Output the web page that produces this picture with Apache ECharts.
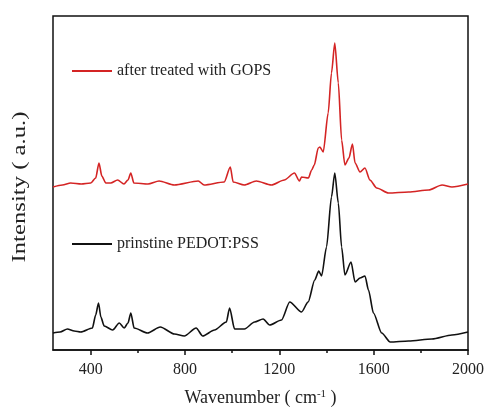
<!DOCTYPE html>
<html><head><meta charset="utf-8">
<script src="https://cdn.jsdelivr.net/npm/echarts@6/dist/echarts.min.js"></script>
<style>html,body{margin:0;padding:0;background:#fff}#c{width:486px;height:408px}</style>
</head><body><div id="c"></div>
<script>
// Wavenumber (cm^-1) and intensity (a.u., offset)
const wnRed  = [240,280,315,360,400,421,435,447,464,485,514,541,558,570,583,643,690,754,856,881,966,992,1004,1051,1102,1166,1221,1264,1285,1294,1323,1337,1348,1365,1372,1386,1407,1421,1435,1450,1464,1478,1495,1510,1521,1542,1563,1584,1613,1663,1748,1833,1890,1932,2000];
const intRed = [163,165,167,166,167,172,187,174,167,167,170,166,170,177,167,166,169,165,169,165,168,183,168,165,169,165,170,177,169,173,172,180,185,202,203,198,237,277,307,267,210,185,192,206,187,178,182,170,162,157,158,160,165,163,166];
const wnBlack  = [240,270,301,330,358,407,421,433,443,457,493,521,542,558,570,584,641,695,755,797,847,875,925,975,989,1010,1052,1095,1131,1159,1209,1244,1294,1322,1350,1367,1379,1400,1421,1435,1450,1464,1478,1504,1521,1542,1563,1578,1599,1634,1670,1748,1847,1932,2000];
const intBlack = [17,18,21,19,18,22,35,47,33,24,20,27,22,27,37,22,17,23,16,14,22,14,20,28,42,21,21,28,31,25,30,48,38,48,70,79,74,103,153,177,147,103,75,88,68,72,74,60,37,17,8,9,11,15,18];
const majorTicks = [400,800,1200,1600,2000];
const minorTicks = [600,1000,1400,1800];
const nameRed = 'after treated with GOPS';
const nameBlack = 'prinstine PEDOT:PSS';
const yTitle = 'Intensity ( a.u.)';

const pairs = (xs, ys) => xs.map((x, i) => [x, ys[i]]);
const font = 'Liberation Serif';
const chart = echarts.init(document.getElementById('c'));
chart.setOption({
  animation: false,
  backgroundColor: '#fff',
  grid: {left: 53, right: 18, top: 16, bottom: 58, show: true, borderColor: '#111', borderWidth: 1.5,
    backgroundColor: 'transparent', containLabel: false, outerBoundsMode: 'none'},
  legend: [
    {data: [{name: nameRed, icon: 'rect'}], left: 72, top: 63, padding: 0, itemWidth: 40, itemHeight: 2,
     textStyle: {fontFamily: font, fontSize: 16, color: '#222'}},
    {data: [{name: nameBlack, icon: 'rect'}], left: 72, top: 236, padding: 0, itemWidth: 40, itemHeight: 2,
     textStyle: {fontFamily: font, fontSize: 16, color: '#222'}}
  ],
  graphic: [{type: 'text', x: 20, y: 187, rotation: Math.PI / 2, scaleX: 1.3,
    style: {text: yTitle, fontFamily: font, fontSize: 19, fill: '#222', align: 'center', verticalAlign: 'middle'}}],
  xAxis: [
    {type: 'value', min: 240, max: 2000, position: 'bottom',
     axisLine: {show: true, lineStyle: {color: '#111', width: 1.5}},
     axisTick: {show: true, customValues: majorTicks, length: 5, lineStyle: {color: '#111', width: 1.5}},
     axisLabel: {show: true, customValues: majorTicks, margin: 12, fontFamily: font, fontSize: 16, color: '#222',
       formatter: v => String(v)},
     splitLine: {show: false},
     name: 'Wavenumber ( cm{sup|-1} )', nameLocation: 'middle', nameGap: 39,
     nameTextStyle: {fontFamily: font, fontSize: 18, color: '#222',
       rich: {sup: {fontFamily: font, fontSize: 11, color: '#222', verticalAlign: 'top', padding: [0,0,8,0]}}}},
    {type: 'value', min: 240, max: 2000, position: 'bottom',
     axisLine: {show: false},
     axisTick: {show: true, customValues: minorTicks, length: 3, lineStyle: {color: '#111', width: 1.5}},
     axisLabel: {show: false}, splitLine: {show: false}}
  ],
  yAxis: {type: 'value', min: 0, max: 334, show: true,
    axisLine: {show: false}, axisTick: {show: false}, axisLabel: {show: false}, splitLine: {show: false}},
  series: [
    {name: nameRed, type: 'line', data: pairs(wnRed, intRed), symbol: 'none', smooth: 0.25, smoothMonotone: 'x',
     lineStyle: {color: '#d42424', width: 1.6}, itemStyle: {color: '#d42424'}},
    {name: nameBlack, type: 'line', data: pairs(wnBlack, intBlack), symbol: 'none', smooth: 0.25, smoothMonotone: 'x',
     lineStyle: {color: '#111', width: 1.6}, itemStyle: {color: '#111'}}
  ]
});
</script></body></html>
